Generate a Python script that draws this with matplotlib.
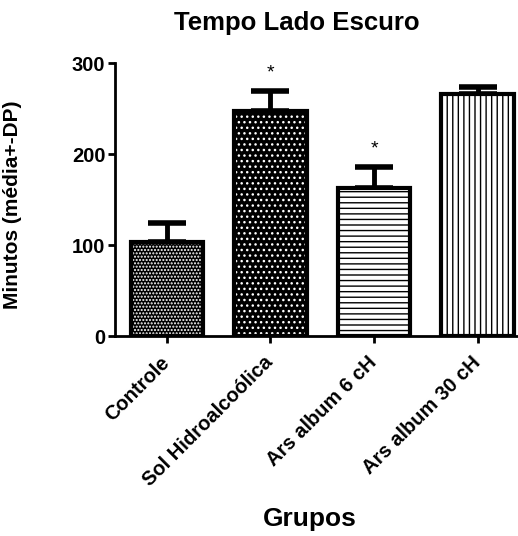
import matplotlib.pyplot as plt
import numpy as np

plt.rcParams['font.family'] = ['Liberation Sans', 'DejaVu Sans']
plt.rcParams['font.weight'] = 'bold'

grupos = ['Controle', 'Sol Hidroalcoólica', 'Ars album 6 cH', 'Ars album 30 cH']
medias = [103, 247, 163, 266]
dp = [21, 22, 23, 8]
signif = ['', '*', '*', '']
faces = ['black', 'black', 'white', 'white']
hatches = ['.....', '...', '---', '|||']
hatch_cores = ['white', 'white', 'black', 'black']

fig = plt.figure(figsize=(5.18, 5.36), dpi=100)
ax = fig.add_axes([0.222, 0.373, 0.79, 0.509])

x = np.arange(len(grupos))
w = 0.7

# error bars (upper only)
ax.errorbar(x, medias, yerr=[np.zeros(len(dp)), dp], fmt='none', ecolor='black',
            elinewidth=3.5, capsize=14, capthick=4, zorder=1)

for i in range(len(grupos)):
    ax.bar(x[i], medias[i], w, color=faces[i], edgecolor=hatch_cores[i],
           hatch=hatches[i], linewidth=0, zorder=2)
    ax.bar(x[i], medias[i], w, color='none', edgecolor='black', linewidth=3, zorder=3)
    if signif[i]:
        ax.text(x[i], medias[i] + dp[i] + 20, signif[i], ha='center', va='center',
                fontsize=14, fontweight='normal')

ax.set_xlim(-0.5, 3.45)
ax.set_ylim(0, 300)
ax.set_yticks([0, 100, 200, 300])
ax.set_xticks(x)
ax.set_xticklabels(grupos, rotation=45, ha='right', va='center',
                   rotation_mode='anchor', fontsize=14.5)
ax.tick_params(axis='y', labelsize=14.5, width=2, length=5, pad=2)
ax.tick_params(axis='x', width=2, length=5, pad=12)
for s in ['top', 'right']:
    ax.spines[s].set_visible(False)
for s in ['left', 'bottom']:
    ax.spines[s].set_linewidth(2)

ax.set_ylabel('Minutos (média+-DP)', fontsize=15, fontweight='bold')
ax.yaxis.set_label_coords(-0.227, 0.48)
fig.text(0.573, 0.944, 'Tempo Lado Escuro', ha='center', va='baseline',
         fontsize=18.5, fontweight='bold')
fig.text(0.598, 0.019, 'Grupos', ha='center', va='baseline', fontsize=19, fontweight='bold')

fig.savefig('out.png', dpi=100)
